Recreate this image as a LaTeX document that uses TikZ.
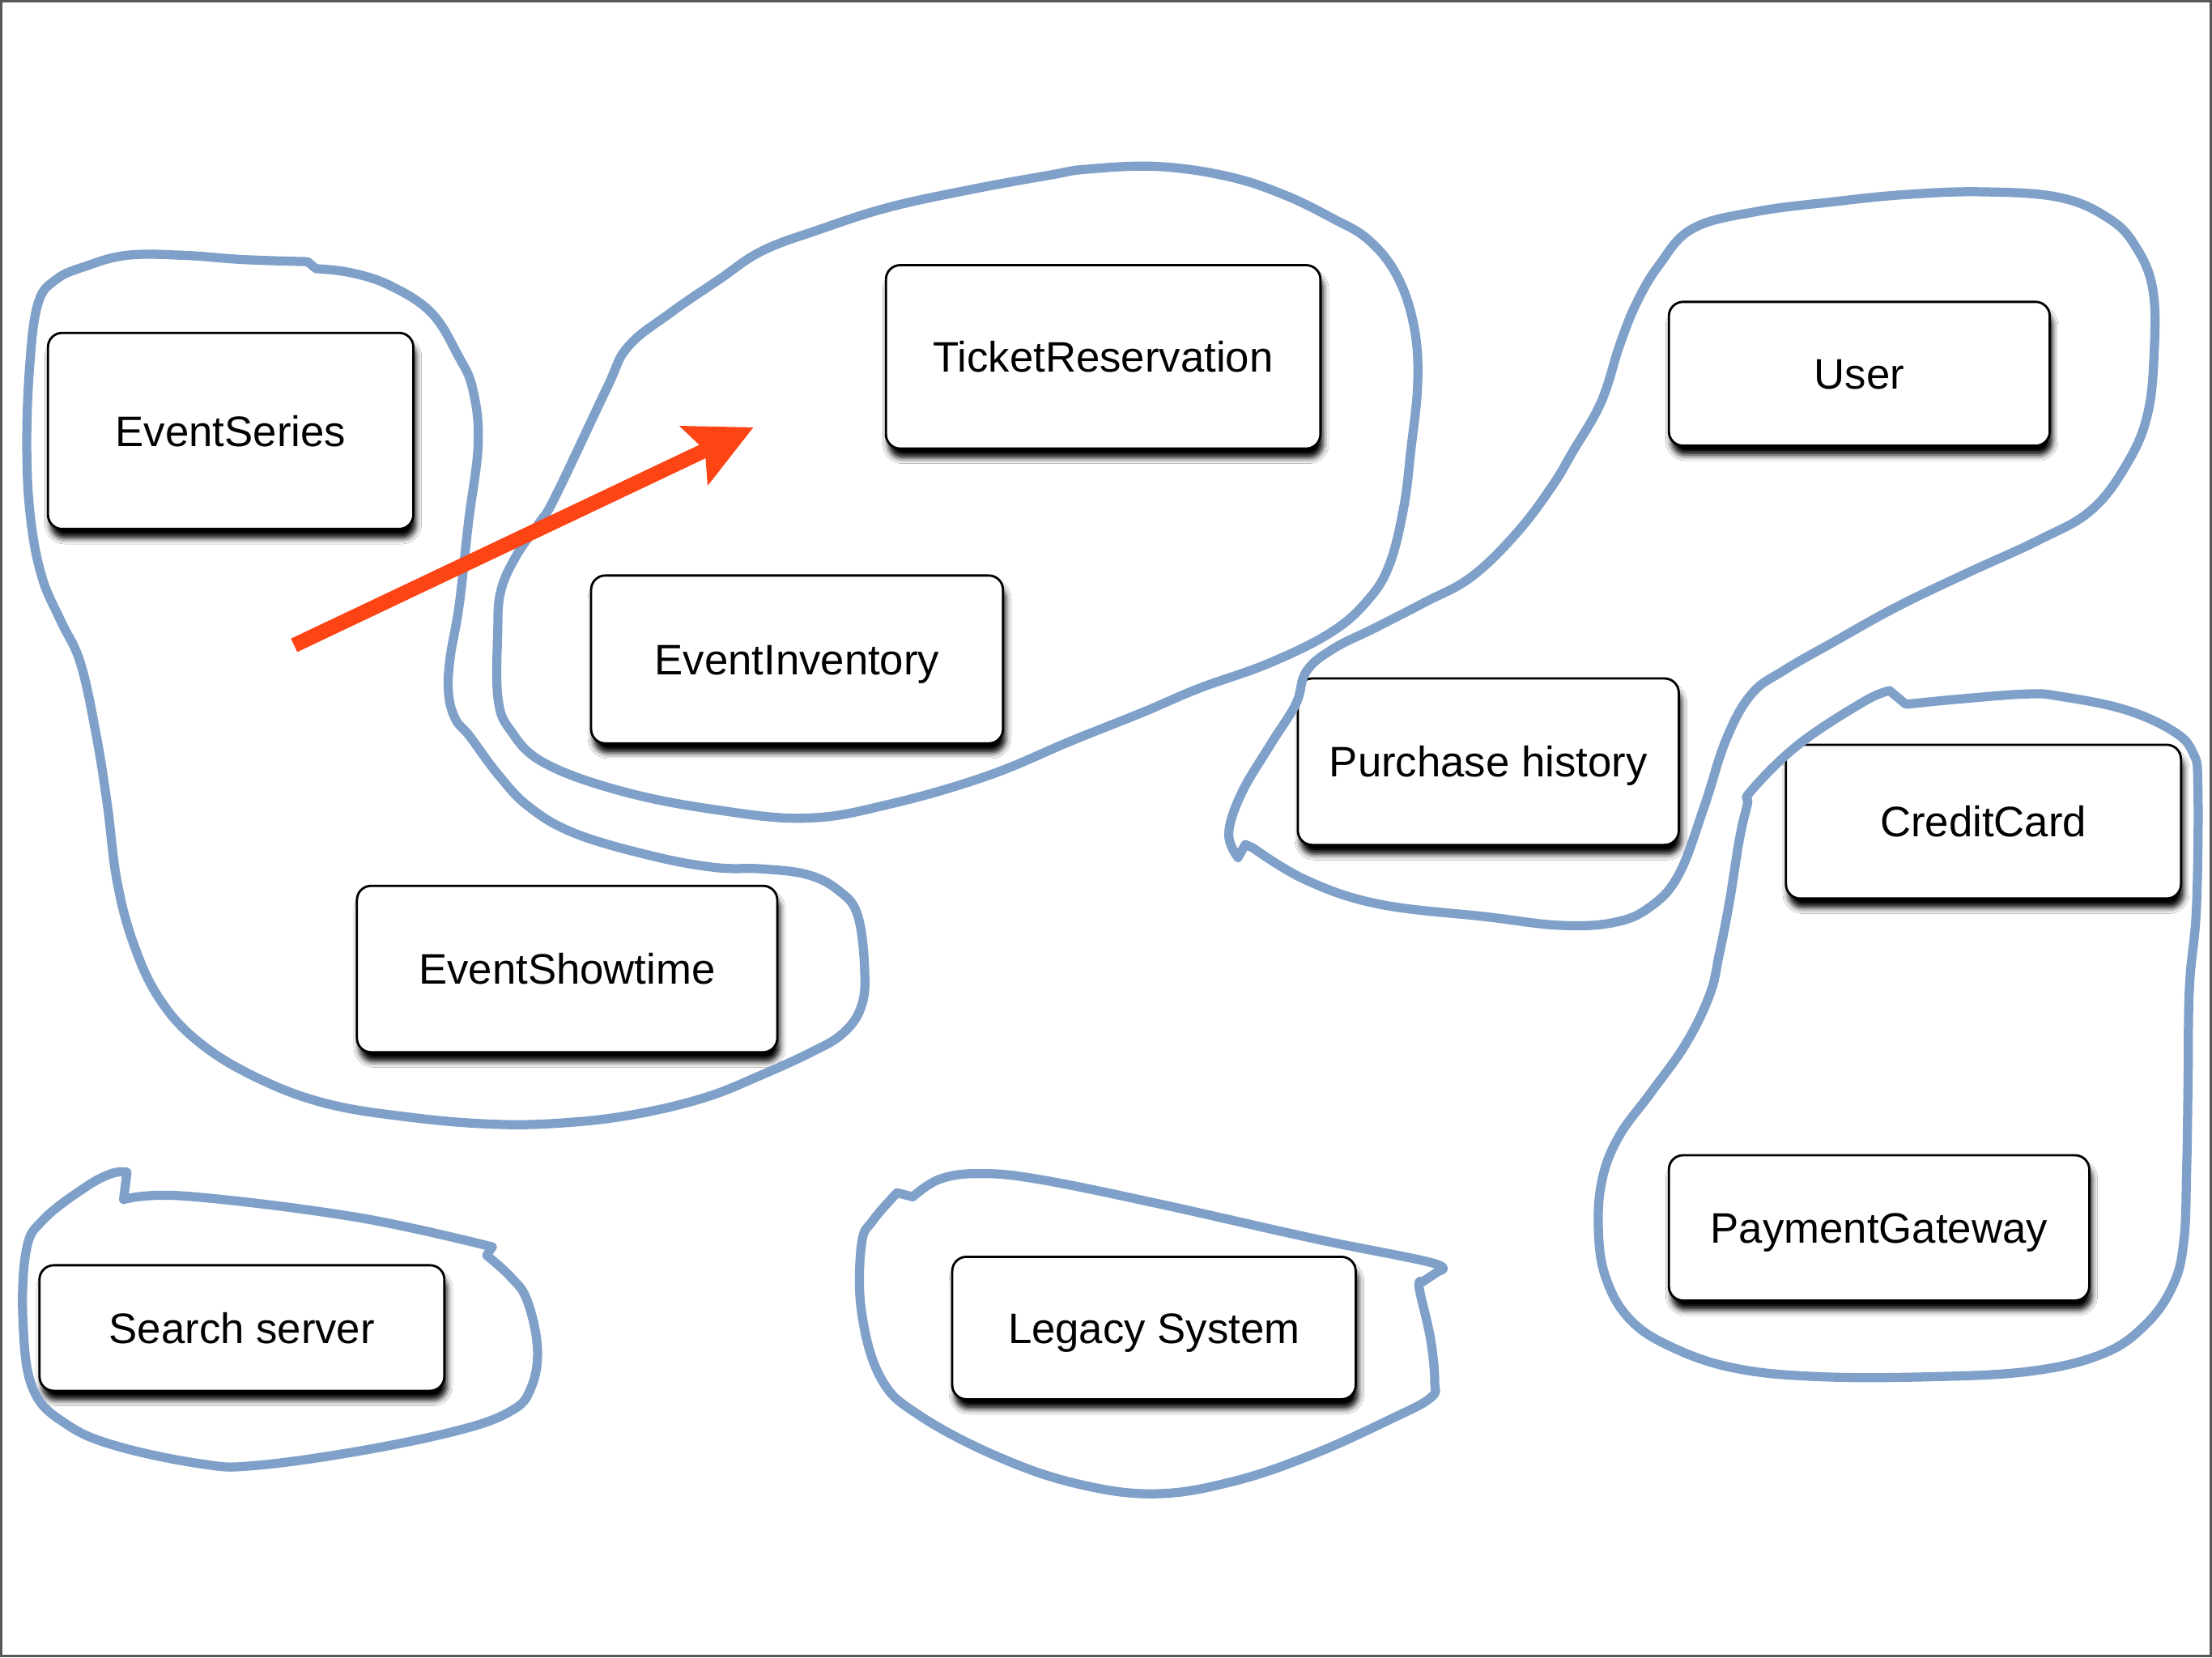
\documentclass[tikz,border=0pt]{standalone}
\usepackage{fontspec}
\setmainfont{Liberation Sans}
\usetikzlibrary{arrows.meta,shadows.blur}

\newdimen\px
\px=0.017423cm

\definecolor{groupblue}{RGB}{127,160,200}
\definecolor{arrowred}{RGB}{252,68,21}
\definecolor{framegray}{RGB}{88,88,88}

\tikzset{
  entity/.style={draw=black, line width=0.8pt, fill=white, rounded corners=5pt,
    font=\fontsize{15}{18}\selectfont, text height=10.7pt, text depth=0pt, inner sep=0pt,
    blur shadow={shadow xshift=0.9pt, shadow yshift=-3.3pt, shadow blur radius=2pt, shadow opacity=100}},
  group/.style={draw=groupblue, line width=3.2pt, line join=round, line cap=round},
  pointer/.style={draw=arrowred, line width=5.2pt,
    -{Stealth[length=23.3pt, width=23.3pt, inset=4.5pt, line width=0pt]}},
}

\begin{document}
\begin{tikzpicture}[x=0.017423cm, y=-0.017423cm]
\useasboundingbox (0,0) rectangle (1568,1175);
\fill[white] (0,0) rectangle (1568,1175);
\draw[framegray, line width=0.8pt] (0.8,0.8) rectangle (1567.2,1174.2);

% entities
\node[entity, minimum width=259*\px, minimum height=139*\px] (es) at (163.5,305.5) {EventSeries};
\node[entity, minimum width=308*\px, minimum height=130*\px] (tr) at (782,253) {TicketReservation};
\node[entity, minimum width=270*\px, minimum height=102*\px] (us) at (1318,265) {User};
\node[entity, minimum width=292*\px, minimum height=119*\px] (ei) at (565,467.5) {EventInventory};
\node[entity, minimum width=270*\px, minimum height=118*\px] (ph) at (1055,540) {Purchase history};
\node[entity, minimum width=280*\px, minimum height=109*\px] (cc) at (1406,582.5) {CreditCard};
\node[entity, minimum width=298*\px, minimum height=118*\px] (st) at (402,687) {EventShowtime};
\node[entity, minimum width=298*\px, minimum height=103*\px] (pg) at (1332,870.5) {PaymentGateway};
\node[entity, minimum width=287*\px, minimum height=89*\px] (ss) at (171.5,941.5) {Search server};
\node[entity, minimum width=286*\px, minimum height=101*\px] (ls) at (818,941.5) {Legacy System};

% hand-drawn group outlines
\draw[group] plot[smooth, tension=0.65] coordinates {(224,190.5) (249,193.4) (277,202.7) (306,222) (325,252.6) (335,275.5) (339,314) (332,371) (325.5,429) (319,467) (318,492) (323,510) (333,522) (353,549) (375,572) (408,591) (463,607) (507,615) (540,616) (572,620) (594,631) (608,649) (613,690) (610,715) (597,733) (575,746) (540,762) (500,778) (450,790) (400,796) (350,797) (290,792) (230,782) (180,763) (140,738) (113,708) (95,670) (83,625) (76,570) (68,520) (57,470) (43,440) (30,410) (22,370) (19,320) (21,260) (27,215) (40,198) (60,189) (90,181) (130,181) (172,184) (218,185.5)} -- cycle;

\draw[group] plot[smooth cycle, tension=0.65] coordinates {(430,275.5) (393.7,352) (382,371) (366,394) (355,419) (352.8,448) (353,495) (362,518) (386,541) (441,561) (507,574) (572,580) (631,570) (700,550) (760,525) (810,505) (850,488) (900,470) (944,448) (970,425) (985,400) (995,360) (1000,320) (1005,270) (1002,230) (990,195) (970,170) (945,155) (910,138) (870,125) (820,118) (770,120) (745,124) (690,134) (630,147) (580,163) (540,178) (510,198) (475,222) (445,246)};

\draw[group] plot[smooth, tension=0.65] coordinates {(888,601) (926,624) (977.6,641) (1054,650) (1105.6,656) (1144,654) (1169.6,643) (1190,620) (1208,572) (1223.7,524) (1241.6,492) (1265,475) (1300,455) (1345,430) (1395,406) (1445,383) (1482,362) (1507,330) (1522,295) (1527,250) (1526,205) (1514,175) (1495,155) (1460,140) (1405,136) (1350,138) (1300,143) (1245,150) (1200,162) (1176,188) (1160,215) (1148,245) (1135,285) (1115,320) (1100,345) (1075,378) (1043,409) (1010,427) (975,445) (945,460) (926,476) (918.6,499) (900.5,528) (880,562.5) (871,591) (877.6,608)} -- (882.7,598.7) -- cycle;

\draw[group] plot[smooth, tension=0.65] coordinates {(1351,499.3) (1390,495.5) (1436.6,492) (1460,493.6) (1506,503) (1540.7,518.5) (1554.6,534) (1558,557) (1557,643) (1552,700) (1551,770) (1550,830) (1548,880) (1540,912) (1520,940) (1490,960) (1440,972) (1370,976) (1290,976) (1230,970) (1185,955) (1155,935) (1138,905) (1133,870) (1136,835) (1148,805) (1170,775) (1195,740) (1212,705) (1218.6,677) (1226,639) (1233,595) (1238.7,570) (1241,561) (1274.7,528) (1321,497.5) (1339.5,489.7)} -- cycle;

\draw[group] plot[smooth, tension=0.65] coordinates {(87.6,850.4) (132,848) (253,863) (349,884)}
  -- plot[smooth, tension=0.65] coordinates {(345,890) (361.7,905) (373.7,922) (381,956.7) (376,985) (361.7,1000.6) (325,1014) (253,1029) (180.5,1039) (144,1038) (84,1025.5) (47.6,1010) (23.5,985) (16.3,937) (18.7,886) (30.8,864.6) (60,842) (79,832) (90,831)} -- cycle;

\draw[group] plot[smooth, tension=0.65] coordinates {(647,848.5) (666,836) (694,832) (736,836) (819.5,853) (931,878) (1014,895) (1020,901)}
  -- plot[smooth, tension=0.65] coordinates {(1008,909) (1006,913) (1014,949) (1017,979.5) (1014,991) (986,1006) (930.8,1031) (875,1050) (819.5,1059) (764,1052) (708,1033) (652.6,1004) (624.7,977.6) (610.7,930) (610.7,882) (619,865) (635.9,845.6)} -- cycle;

% move arrow
\coordinate (tail) at (208.5,457.5);
\coordinate (head) at (534,303);
\draw[pointer] (tail) -- (head);
\end{tikzpicture}
\end{document}
